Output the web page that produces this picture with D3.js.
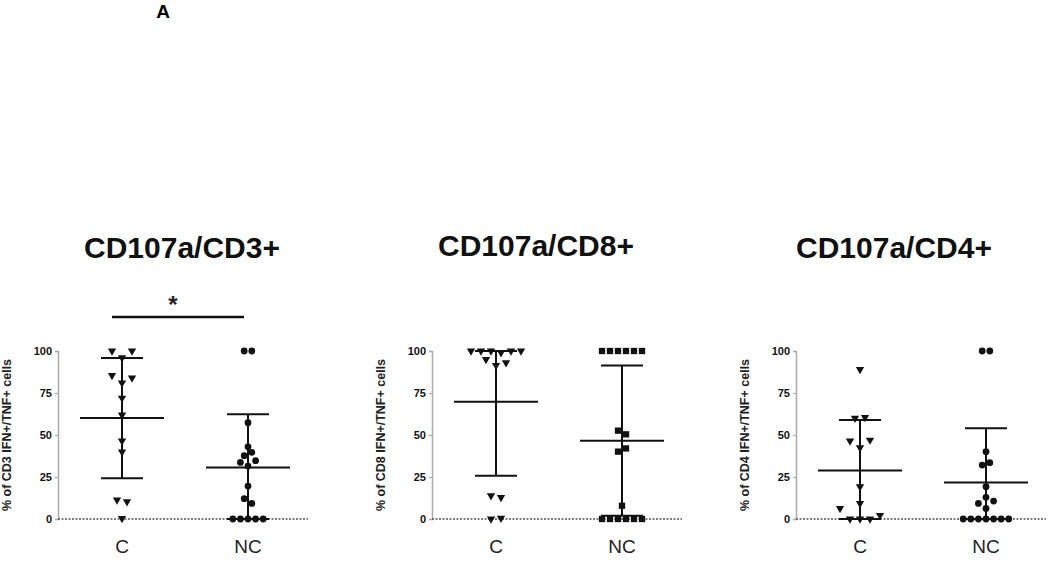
<!DOCTYPE html>
<html>
<head>
<meta charset="utf-8">
<script src="https://cdn.jsdelivr.net/npm/d3@7"></script>
<style>
body{margin:0;background:#fff;}
text{font-family:"Liberation Sans", Arial, sans-serif;}
</style>
</head>
<body>
<svg id="chart" width="1050" height="562"></svg>
<script>
const groups = ["C", "NC"];
const yTicks = [0, 25, 50, 75, 100];
const titles = ["CD107a/CD3+", "CD107a/CD8+", "CD107a/CD4+"];
const yLabels = ["% of CD3 IFN+/TNF+ cells", "% of CD8 IFN+/TNF+ cells", "% of CD4 IFN+/TNF+ cells"];

// scatter values, one sub-array per row of the swarm (top to bottom, left to right)
const cd3C = [[100, 96, 100], [85.5, 81, 84], [72], [62], [46.5], [40], [11.3, 10.3], [0.4]];
const cd3NC = [[100, 100], [57.3], [43], [37.7, 39.7], [33.7, 31.5, 34.7], [19.6], [12.1, 9.3], [0, 0, 0, 0, 0]];
const cd8C = [[100, 100, 100, 99, 100, 100], [95, 91.5, 93], [13.9, 12.9], [0, 0.5]];
const cd8NC = [[100, 100, 100, 100, 100, 100], [52.6, 50.4], [40.1, 42], [7.9], [0, 0, 0, 0, 0, 0]];
const cd4C = [[89], [60, 60.5], [46.5, 42.5, 47], [19.2], [9.3], [6.3, 0, 0, 0, 2.2]];
const cd4NC = [[100, 100], [40.1], [32.1, 33.5], [19.2], [12.9], [9.3, 6.3, 10.7], [0, 0, 0, 0, 0, 0, 0]];

// mean and SD per panel, [C, NC]
const means = [[60.1, 30.7], [69.8, 46.6], [28.8, 21.8]];
const sds = [[35.8, 31.6], [44, 44.7], [30.1, 32.2]];

const panelData = [[cd3C, cd3NC], [cd8C, cd8NC], [cd4C, cd4NC]];
const markers = [["tri", "circle"], ["tri", "square"], ["tri", "circle"]];

// layout
const panels = [
	{axisX: 58, titleX: 182, titleY: 258},
	{axisX: 432, titleX: 536, titleY: 256},
	{axisX: 796, titleX: 894, titleY: 258}
];
const plotTop = 351, plotBottom = 519;
const spacing = {tri: 10, circle: 7.6, square: 8};

var svg = d3.select("#chart");

svg.append("text")
	.attr("x", 163)
	.attr("y", 18)
	.attr("text-anchor", "middle")
	.style("font-size", "19px")
	.style("font-weight", "bold")
	.text("A");

var y = d3.scaleLinear()
	.domain([0, 100])
	.range([plotBottom, plotTop]);

panels.forEach(function(p, k){
	var g = svg.append("g");

	var x = d3.scalePoint()
		.domain(groups)
		.range([p.axisX + 64, p.axisX + 190]);

	//title
	g.append("text")
		.attr("x", p.titleX)
		.attr("y", p.titleY)
		.attr("text-anchor", "middle")
		.style("font-size", "30px")
		.style("font-weight", "bold")
		.attr("fill", "#111")
		.text(titles[k]);

	//y-axis
	var yAxis = d3.axisLeft(y)
		.tickValues(yTicks)
		.tickSize(3)
		.tickPadding(3);
	var ax = g.append("g")
		.attr("transform", "translate(" + p.axisX + ",0)")
		.call(yAxis);
	ax.select(".domain").attr("stroke", "#aaa").attr("stroke-width", 1.5);
	ax.selectAll(".tick line").attr("stroke", "#aaa").attr("stroke-width", 1.2);
	ax.selectAll(".tick text")
		.style("font-size", "11px")
		.style("font-weight", "bold")
		.style("font-family", "'Liberation Sans', Arial, sans-serif")
		.attr("fill", "#111");

	g.append("text")
		.attr("transform", "translate(" + (p.axisX - 47) + "," + ((plotTop + plotBottom) / 2) + ") rotate(-90)")
		.attr("text-anchor", "middle")
		.style("font-size", "12.5px")
		.style("font-weight", "bold")
		.attr("fill", "#222")
		.text(yLabels[k]);

	//x labels
	g.selectAll(".xlab")
		.data(groups)
		.enter()
		.append("text")
			.attr("x", d => x(d))
			.attr("y", 553)
			.attr("text-anchor", "middle")
			.style("font-size", "19px")
			.attr("fill", "#222")
			.text(d => d);

	//dotted zero line
	g.append("line")
		.attr("x1", p.axisX)
		.attr("x2", p.axisX + 250)
		.attr("y1", y(0))
		.attr("y2", y(0))
		.attr("stroke", "#555")
		.attr("stroke-width", 1.3)
		.attr("stroke-dasharray", "2,1.5");

	groups.forEach(function(grp, j){
		var cx = x(grp);
		var m = means[k][j];
		var hi = Math.min(100, m + sds[k][j]);
		var lo = Math.max(0, m - sds[k][j]);

		//points
		var pts = [];
		panelData[k][j].forEach(function(row){
			row.forEach(function(v, i){
				pts.push({v: v, off: (i - (row.length - 1) / 2) * spacing[markers[k][j]]});
			});
		});

		var type = markers[k][j];
		var sym = d3.symbol()
			.type(type == "tri" ? d3.symbolTriangle : (type == "square" ? d3.symbolSquare : d3.symbolCircle))
			.size(type == "tri" ? 30 : (type == "square" ? 40 : 36));

		g.selectAll(".pt" + j)
			.data(pts)
			.enter()
			.append("path")
				.attr("d", sym)
				.attr("fill", "#111")
				.attr("transform", d => "translate(" + (cx + d.off) + "," + y(d.v) + ")" + (type == "tri" ? " rotate(180)" : ""));

		//error bar
		g.append("line")
			.attr("x1", cx).attr("x2", cx)
			.attr("y1", y(lo)).attr("y2", y(hi))
			.attr("stroke", "#111").attr("stroke-width", 2);
		[lo, hi].forEach(function(v){
			g.append("line")
				.attr("x1", cx - 21).attr("x2", cx + 21)
				.attr("y1", y(v)).attr("y2", y(v))
				.attr("stroke", "#111").attr("stroke-width", 2);
		});

		//mean
		g.append("line")
			.attr("x1", cx - 42).attr("x2", cx + 42)
			.attr("y1", y(m)).attr("y2", y(m))
			.attr("stroke", "#111").attr("stroke-width", 2);
	});

	//significance bar on the first panel
	if(k == 0){
		g.append("line")
			.attr("x1", x("C") - 10)
			.attr("x2", x("NC") - 4)
			.attr("y1", 317)
			.attr("y2", 317)
			.attr("stroke", "#111")
			.attr("stroke-width", 2.5);
		g.append("text")
			.attr("x", (x("C") + x("NC")) / 2 - 12)
			.attr("y", 313)
			.attr("text-anchor", "middle")
			.style("font-size", "24px")
			.style("font-weight", "bold")
			.attr("fill", "#222")
			.text("*");
	}
});
</script>
</body>
</html>
